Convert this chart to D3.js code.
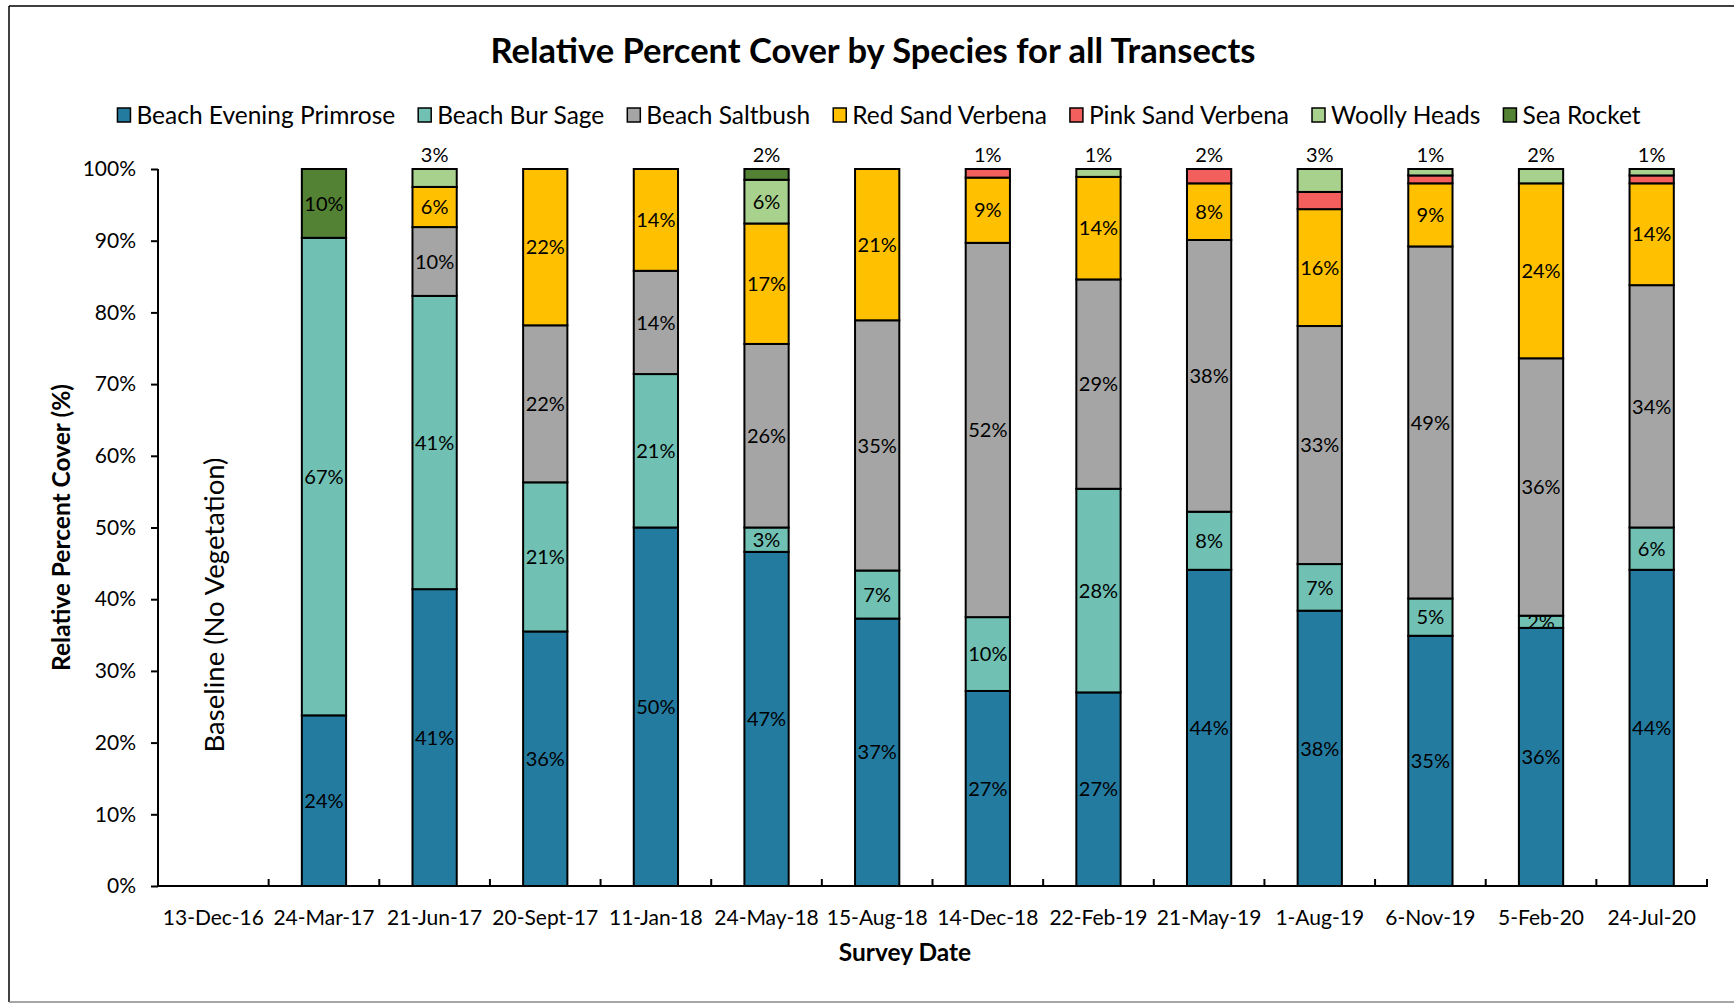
<!DOCTYPE html>
<html lang="en">
<head>
  <meta charset="utf-8">
  <title>Relative Percent Cover by Species</title>
  <script src="https://cdn.jsdelivr.net/npm/d3@7"></script>
  <style>
    body { margin: 0; background: #fff; }
    svg text { font-family: Lato, "Noto Sans", sans-serif; fill: #000; }
    .title { font-size: 34.5px; font-weight: 700; text-anchor: middle; }
    .legendText { font-size: 24.5px; }
    .tick text { font-size: 21px; }
    .xlab { font-size: 21px; text-anchor: middle; }
    .axisTitle { font-size: 24.5px; font-weight: 700; text-anchor: middle; }
    .segLabel { font-size: 20px; text-anchor: middle; }
    .baseline { font-size: 27.5px; text-anchor: middle; }
  </style>
</head>
<body>
<script>
  // survey dates (categories)
  var dates = ["13-Dec-16", "24-Mar-17", "21-Jun-17", "20-Sept-17", "11-Jan-18", "24-May-18", "15-Aug-18",
    "14-Dec-18", "22-Feb-19", "21-May-19", "1-Aug-19", "6-Nov-19", "5-Feb-20", "24-Jul-20"];

  var species = ["Beach Evening Primrose", "Beach Bur Sage", "Beach Saltbush", "Red Sand Verbena",
    "Pink Sand Verbena", "Woolly Heads", "Sea Rocket"];

  // relative cover (%) per species, one value per survey date
  var primrose  = [0, 23.8, 41.4, 35.5, 50.0, 46.6, 37.3, 27.2, 27.0, 44.1, 38.4, 34.9, 36.0, 44.1];
  var burSage   = [0, 66.6, 40.9, 20.8, 21.4, 3.4, 6.7, 10.3, 28.4, 8.1, 6.5, 5.2, 1.7, 5.9];
  var saltbush  = [0, 0, 9.6, 21.9, 14.4, 25.6, 34.9, 52.2, 29.2, 37.9, 33.2, 49.1, 35.9, 33.8];
  var redSand   = [0, 0, 5.6, 21.8, 14.2, 16.8, 21.1, 9.1, 14.3, 7.9, 16.3, 8.8, 24.4, 14.2];
  var pinkSand  = [0, 0, 0, 0, 0, 0, 0, 1.2, 0, 2.0, 2.4, 1.1, 0, 1.1];
  var woolly    = [0, 0, 2.5, 0, 0, 6.1, 0, 0, 1.1, 0, 3.2, 0.9, 2.0, 0.9];
  var seaRocket = [0, 9.6, 0, 0, 0, 1.5, 0, 0, 0, 0, 0, 0, 0, 0];

  var yTicks = [0, 10, 20, 30, 40, 50, 60, 70, 80, 90, 100];

  var series = [primrose, burSage, saltbush, redSand, pinkSand, woolly, seaRocket];
  var colors = ["#247BA0", "#70C1B3", "#A5A5A5", "#FFC000", "#F25F5C", "#A9D18E", "#548235"];

  var W = 1734, H = 1004;
  var plotLeft = 158, plotRight = 1707, plotTop = 169, plotBottom = 886;

  var rows = dates.map(function (d, i) {
    var r = { date: d };
    species.forEach(function (s, j) { r[s] = series[j][i]; });
    return r;
  });

  var svg = d3.select("body").append("svg")
    .attr("width", W)
    .attr("height", H);

  // chart frame
  svg.append("line").attr("x1", 9).attr("y1", 6).attr("x2", W).attr("y2", 6)
    .attr("stroke", "#000").attr("stroke-width", 1.5);
  svg.append("line").attr("x1", 9).attr("y1", 6).attr("x2", 9).attr("y2", 1002)
    .attr("stroke", "#000").attr("stroke-width", 1.5);
  svg.append("line").attr("x1", 9).attr("y1", 1002).attr("x2", W).attr("y2", 1002)
    .attr("stroke", "#888").attr("stroke-width", 1.5);

  var x = d3.scaleBand()
    .domain(dates)
    .range([plotLeft, plotRight])
    .paddingInner(0.6)
    .paddingOuter(0.3);

  var y = d3.scaleLinear()
    .domain([0, 100])
    .range([plotBottom, plotTop]);

  var color = d3.scaleOrdinal().domain(species).range(colors);

  // title
  svg.append("text")
    .attr("class", "title")
    .attr("x", 873)
    .attr("y", 63)
    .text("Relative Percent Cover by Species for all Transects");

  // legend
  var legend = svg.append("g").attr("class", "legend");
  var lx = 0, gap = 23;
  species.forEach(function (s) {
    var g = legend.append("g").attr("transform", "translate(" + lx + ",0)");
    g.append("rect")
      .attr("x", 0).attr("y", -7)
      .attr("width", 13).attr("height", 14)
      .attr("fill", color(s))
      .attr("stroke", "#000").attr("stroke-width", 1.5);
    var t = g.append("text")
      .attr("class", "legendText")
      .attr("x", 19)
      .attr("dy", "0.36em")
      .text(s);
    lx += 19 + t.node().getComputedTextLength() + gap;
  });
  legend.attr("transform", "translate(" + (879 - (lx - gap) / 2) + ",115)");

  // stacked bars
  var stack = d3.stack().keys(species);
  var stacked = stack(rows);

  var layers = svg.append("g").selectAll("g")
    .data(stacked)
    .enter().append("g")
    .attr("fill", function (d) { return color(d.key); });

  layers.selectAll("rect")
    .data(function (d) { return d.filter(function (p) { return p[1] - p[0] > 0; }); })
    .enter().append("rect")
    .attr("x", function (d) { return x(d.data.date); })
    .attr("y", function (d) { return y(d[1]); })
    .attr("width", x.bandwidth())
    .attr("height", function (d) { return y(d[0]) - y(d[1]); })
    .attr("stroke", "#000")
    .attr("stroke-width", 2);

  // data labels
  var labels = svg.append("g");
  dates.forEach(function (date, i) {
    var top = -1;
    series.forEach(function (v, j) { if (v[i] > 0) top = j; });
    stacked.forEach(function (layer, j) {
      var v = series[j][i];
      if (!(v > 0)) return;
      var cx = x(date) + x.bandwidth() / 2;
      if (j === top && v < 4) {
        labels.append("text")
          .attr("class", "segLabel")
          .attr("x", cx)
          .attr("y", y(100) - 14)
          .attr("dy", "0.36em")
          .text(Math.round(v) + "%");
      } else if (j < 4 || v >= 4) {
        labels.append("text")
          .attr("class", "segLabel")
          .attr("x", cx)
          .attr("y", y((layer[i][0] + layer[i][1]) / 2))
          .attr("dy", "0.36em")
          .text(Math.round(v) + "%");
      }
    });
  });

  // y axis
  var yAxis = svg.append("g")
    .attr("transform", "translate(" + plotLeft + ",0)")
    .call(d3.axisLeft(y)
      .tickValues(yTicks)
      .tickFormat(function (d) { return d + "%"; })
      .tickSize(7)
      .tickPadding(15));
  yAxis.select(".domain").attr("stroke", "#000").attr("stroke-width", 2).attr("d", "M0," + plotTop + "V" + plotBottom);
  yAxis.selectAll(".tick line").attr("stroke", "#000").attr("stroke-width", 2);
  yAxis.selectAll(".tick text").attr("font-family", null).attr("font-size", null);

  // x axis
  var xAxis = svg.append("g");
  xAxis.append("line")
    .attr("x1", plotLeft - 1).attr("x2", plotRight + 1)
    .attr("y1", plotBottom).attr("y2", plotBottom)
    .attr("stroke", "#000").attr("stroke-width", 2);
  var bounds = d3.range(dates.length + 1).map(function (i) { return plotLeft + i * x.step(); });
  xAxis.selectAll(".xtick")
    .data(bounds)
    .enter().append("line")
    .attr("class", "xtick")
    .attr("x1", function (d) { return d; }).attr("x2", function (d) { return d; })
    .attr("y1", plotBottom).attr("y2", plotBottom - 7)
    .attr("stroke", "#000").attr("stroke-width", 2);
  xAxis.selectAll(".xlab")
    .data(dates)
    .enter().append("text")
    .attr("class", "xlab")
    .attr("x", function (d) { return x(d) + x.bandwidth() / 2; })
    .attr("y", 917)
    .attr("dy", "0.36em")
    .text(function (d) { return d; });

  // axis titles
  svg.append("text")
    .attr("class", "axisTitle")
    .attr("x", 905)
    .attr("y", 952)
    .attr("dy", "0.36em")
    .text("Survey Date");

  svg.append("text")
    .attr("class", "axisTitle")
    .attr("transform", "translate(61," + ((plotTop + plotBottom) / 2) + ") rotate(-90)")
    .attr("dy", "0.36em")
    .text("Relative Percent Cover (%)");

  // baseline note for the first survey
  svg.append("text")
    .attr("class", "baseline")
    .attr("transform", "translate(" + (x(dates[0]) + x.bandwidth() / 2 + 1) + ",605) rotate(-90)")
    .attr("dy", "0.36em")
    .text("Baseline (No Vegetation)");
</script>
</body>
</html>
